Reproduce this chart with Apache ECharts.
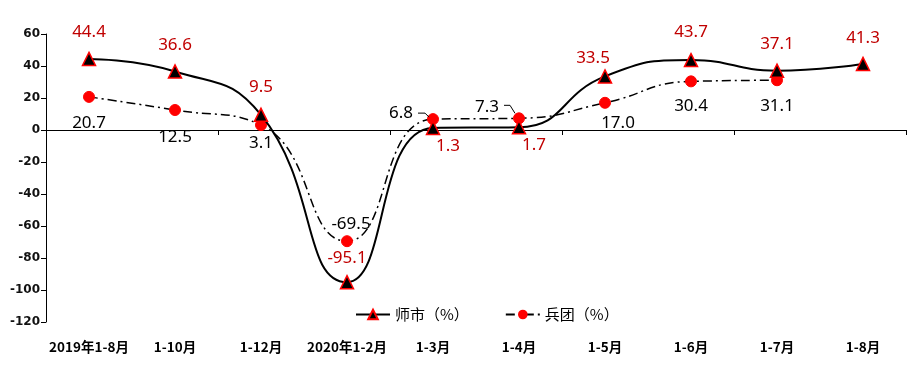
<!DOCTYPE html>
<html><head><meta charset="utf-8">
<script src="https://cdn.jsdelivr.net/npm/echarts@6/dist/echarts.min.js"></script>
<style>html,body{margin:0;padding:0;background:#fff}#c{width:915px;height:369px}</style>
</head><body><div id="c"></div>
<script>
var categories = ['2019年1-8月','1-10月','1-12月','2020年1-2月','1-3月','1-4月','1-5月','1-6月','1-7月','1-8月'];
var shishi = [44.4, 36.6, 9.5, -95.1, 1.3, 1.7, 33.5, 43.7, 37.1, 41.3];
var bingtuan = [20.7, 12.5, 3.1, -69.5, 6.8, 7.3, 17.0, 30.4, 31.1, null];
var yTicks = {min: -120, max: 60, interval: 20};

// label placement (style only)
var s1Pos = [[0,-27],[0,-26],[0,-28],[0,-24],[15,18],[15,18],[-12,-18],[0,-28],[0,-26],[0,-26]];
var s2Pos = [[0,26],[0,27],[0,18],[4,-17],[-32,-6],[-32,-11],[13,20],[0,25],[0,26],[0,0]];
// leader lines (pixel offsets relative to the point) for labels 6.8 and 7.3
var leaders = {4: [[-15,-6],[-8,-6],[-4,-2]], 5: [[-15,-13],[-9,-13],[-4,-5]]};

var RED = '#c00000';
function mk(vals, pos, color){
  return vals.map(function(v,i){
    return {value: v, label: {show: v!==null, position: 'inside', offset: pos[i], color: color,
      formatter: function(p){return p.value.toFixed(1);}}};
  });
}
var chart = echarts.init(document.getElementById('c'));
chart.setOption({
  animation:false,
  grid:{left:46,right:9,top:34,bottom:47},
  legend:{bottom:42,left:350,itemWidth:34,itemHeight:12,itemGap:36,
    textStyle:{fontFamily:'Noto Sans CJK SC',fontSize:15,color:'#000'},
    data:['师市（%）','兵团（%）']},
  xAxis:[{type:'category',data:categories,position:'bottom',
      axisLine:{onZero:true,lineStyle:{color:'#000',width:1}},
      axisTick:{show:true,length:5,lineStyle:{color:'#000'}},
      axisLabel:{show:false}},
    {type:'category',data:categories,position:'bottom',
      axisLine:{show:false,onZero:false},axisTick:{show:false},
      axisLabel:{margin:18,color:'#000',fontWeight:'bold',fontSize:13.5,fontFamily:'Noto Sans CJK SC',interval:0}}],
  yAxis:{type:'value',min:yTicks.min,max:yTicks.max,interval:yTicks.interval,
    axisLine:{show:true,lineStyle:{color:'#000'}},
    axisTick:{show:true,length:5,lineStyle:{color:'#000'}},
    splitLine:{show:false},
    axisLabel:{color:'#111',fontWeight:'bold',fontSize:12,fontFamily:'DejaVu Sans',margin:6}},
  series:[
    {name:'师市（%）',type:'line',smooth:0.5,xAxisIndex:0,
      symbol:'triangle',symbolSize:13,
      itemStyle:{color:'#000',borderColor:'#ff0000',borderWidth:1.5},
      lineStyle:{color:'#000',width:2},
      label:{fontSize:17,fontFamily:'Noto Sans'},
      data:mk(shishi,s1Pos,RED),z:3},
    {name:'兵团（%）',type:'line',smooth:0.5,xAxisIndex:0,connectNulls:false,
      symbol:'circle',symbolSize:11,
      itemStyle:{color:'#ff0000',borderColor:'#ff0000'},
      lineStyle:{color:'#000',width:1.5,type:[9,4,2,4]},
      label:{fontSize:17,fontFamily:'Noto Sans'},
      data:mk(bingtuan,s2Pos,'#000'),z:2}
  ]
});
var g = [];
Object.keys(leaders).forEach(function(k){
  var i = +k;
  var p = chart.convertToPixel({xAxisIndex:0,yAxisIndex:0},[i,bingtuan[i]]);
  g.push({type:'polyline',z:10,shape:{points:leaders[k].map(function(d){return [p[0]+d[0],p[1]+d[1]];})},
    style:{stroke:'#000',lineWidth:1,fill:null}});
});
chart.setOption({graphic:g});
</script></body></html>
